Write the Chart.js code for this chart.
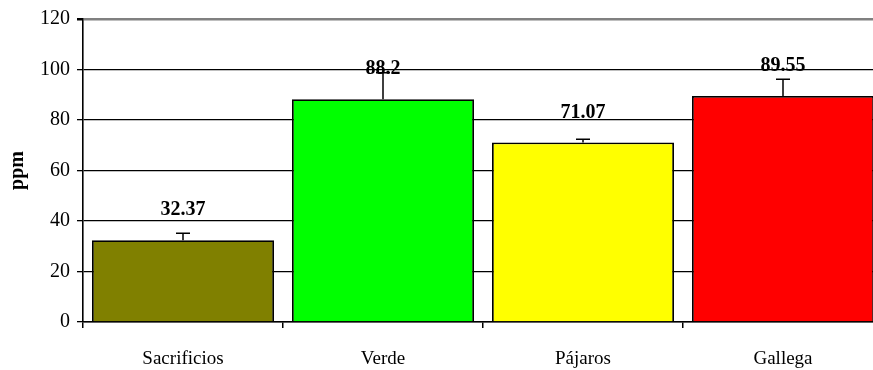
<!DOCTYPE html>
<html>
<head>
<meta charset="utf-8">
<script src="https://cdn.jsdelivr.net/npm/chart.js@4.4.1/dist/chart.umd.min.js"></script>
<style>
  html, body { margin: 0; padding: 0; background: #fff; overflow: hidden; }
  #wrap { width: 890px; height: 370px; }
</style>
</head>
<body>
<div id="wrap"><canvas id="chart"></canvas></div>
<script>
// datos
const categories = ["Sacrificios", "Verde", "Pájaros", "Gallega"];
const ppmValues = [32.37, 88.2, 71.07, 89.55];
const ppmErrors = [2.8, 10.5, 1.3, 6.6];
const barColors = ["#808000", "#00FF00", "#FFFF00", "#FF0000"];
const yTicks = [0, 20, 40, 60, 80, 100, 120];

const FONT = "'Liberation Serif', 'Times New Roman', serif";

// barras de error (solo hacia arriba) y etiquetas de valor
const errorBarsPlugin = {
  id: "errorBars",
  afterDatasetsDraw(chart) {
    const ctx = chart.ctx;
    const meta = chart.getDatasetMeta(0);
    const yScale = chart.scales.y;
    ctx.save();
    ctx.strokeStyle = "#000";
    ctx.lineWidth = 1.5;
    meta.data.forEach((bar, i) => {
      const top = yScale.getPixelForValue(ppmValues[i] + ppmErrors[i]);
      ctx.beginPath();
      ctx.moveTo(bar.x, bar.y);
      ctx.lineTo(bar.x, top);
      ctx.moveTo(bar.x - 7, top);
      ctx.lineTo(bar.x + 7, top);
      ctx.stroke();
    });
    ctx.fillStyle = "#000";
    ctx.font = "bold 20px " + FONT;
    ctx.textAlign = "center";
    ctx.textBaseline = "middle";
    meta.data.forEach((bar, i) => {
      ctx.fillText(String(ppmValues[i]), bar.x, bar.y - 30);
    });
    ctx.restore();
  },
};

new Chart(document.getElementById("chart"), {
  type: "bar",
  data: {
    labels: categories,
    datasets: [{
      data: ppmValues,
      backgroundColor: barColors,
      borderColor: "#000",
      borderWidth: 1.8,
      barPercentage: 0.91,
      categoryPercentage: 1,
    }],
  },
  options: {
    responsive: true,
    maintainAspectRatio: false,
    animation: false,
    events: [],
    layout: { padding: { top: 19, right: 7, left: 0, bottom: 0 } },
    plugins: { legend: { display: false }, tooltip: { enabled: false } },
    scales: {
      x: {
        grid: { drawOnChartArea: false, drawTicks: true, tickLength: 6, color: "#000", lineWidth: 1.5 },
        border: { color: "#000", width: 1.5 },
        ticks: { color: "#000", font: { family: FONT, size: 19 }, padding: 20 },
        afterFit: (scale) => { scale.height = 48; },
      },
      y: {
        min: 0,
        max: 120,
        afterBuildTicks: (scale) => { scale.ticks = yTicks.map((v) => ({ value: v })); },
        grid: {
          color: (c) => (c.tick && c.tick.value === 120 ? "#808080" : "#000"),
          lineWidth: (c) => (c.tick && c.tick.value === 120 ? 2.5 : 1.3),
          tickColor: "#000",
          tickLength: 6,
        },
        border: { color: "#000", width: 1.6 },
        ticks: { color: "#000", font: { family: FONT, size: 20 }, padding: 7 },
        title: {
          display: true,
          text: "ppm",
          color: "#000",
          font: { family: FONT, size: 20, weight: "bold" },
          padding: { top: 6, bottom: 0 },
        },
        afterFit: (scale) => { scale.width = 83; },
      },
    },
  },
  plugins: [errorBarsPlugin],
});
</script>
</body>
</html>
